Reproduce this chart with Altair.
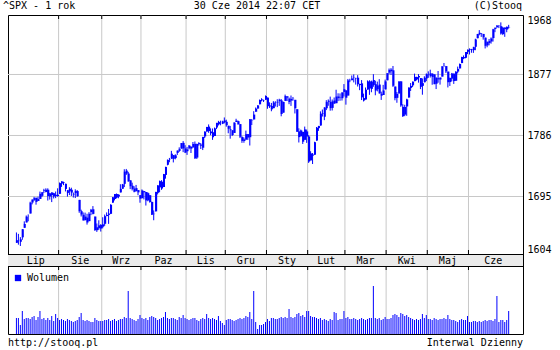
import altair as alt
import pandas as pd

title_left = "^SPX - 1 rok"
title_mid = "30 Cze 2014 22:07 CET"
title_right = "(C)Stooq"
footer_left = "http://stooq.pl"
footer_right = "Interwal Dzienny"
volume_label = "Wolumen"

months = ["Lip", "Sie", "Wrz", "Paz", "Lis", "Gru", "Sty", "Lut", "Mar", "Kwi", "Maj", "Cze"]
month_days = [22, 22, 20, 23, 20, 21, 21, 19, 21, 21, 21, 21]

opens = [
    1609.8,1614.3,1611.5,1618.7,1634.2,1642.9,1652.5,1657.4,1675.3,1679.6,1682.7,1677.9,1681.1,1686.2,1694.4,1696.1,1696.1,1685.2,1687.3,1690.3,1687.9,1687.8,
    1689.4,1706.1,1708.0,1705.8,1695.3,1693.4,1696.1,1688.4,1690.7,1693.9,1679.6,1661.2,1655.3,1646.8,1650.7,1645.0,1659.9,1664.3,1652.5,1630.3,1633.5,1638.9,
    1636.0,1640.7,1653.3,1657.4,1656.9,1675.1,1681.0,1689.2,1685.0,1691.7,1697.7,1705.7,1727.3,1722.4,1711.4,1702.6,1698.0,1694.0,1695.5,1687.3,
    1682.4,1691.9,1692.4,1678.8,1687.2,1676.2,1657.0,1660.9,1691.1,1699.9,1709.2,1700.5,1720.2,1736.7,1745.2,1746.5,1752.3,1747.5,1756.0,1759.4,1762.9,1772.3,1763.2,
    1758.7,1763.4,1765.7,1765.0,1770.7,1748.4,1770.0,1769.5,1764.4,1782.8,1790.7,1798.8,1790.8,1789.6,1783.5,1797.2,1806.3,1802.9,1803.5,1808.7,
    1806.6,1800.1,1794.2,1792.8,1788.4,1806.2,1807.6,1802.8,1781.7,1778.0,1777.5,1786.5,1781.5,1809.0,1810.4,1822.9,1828.0,1835.0,1843.0,1841.5,1842.6,
    1845.9,1833.2,1832.3,1828.7,1837.9,1839.0,1840.1,1841.3,1821.4,1840.5,1848.0,1844.2,1841.1,1844.7,1842.3,1827.0,1791.0,1783.0,1790.2,1777.2,1790.9,
    1782.7,1743.8,1753.4,1753.0,1776.0,1796.2,1800.5,1820.1,1814.8,1828.5,1839.0,1838.9,1829.2,1841.1,1836.8,1847.7,1845.8,1844.9,1855.1,
    1857.7,1849.2,1874.1,1874.2,1878.5,1877.9,1878.3,1866.2,1869.1,1845.1,1842.8,1858.9,1872.3,1860.1,1874.5,1867.7,1859.5,1867.1,1852.1,1850.1,1859.2,
    1874.0,1886.6,1891.4,1890.3,1863.9,1845.5,1852.6,1872.3,1830.7,1818.2,1831.5,1846.0,1861.7,1865.8,1872.6,1879.3,1881.0,1877.7,1865.0,1870.8,1877.1,
    1884.4,1885.3,1879.5,1883.7,1868.5,1877.4,1875.3,1880.0,1896.8,1897.1,1888.2,1871.2,1876.7,1884.9,1873.3,1888.2,1893.3,1902.0,1911.8,1910.6,1920.3,
    1923.9,1923.1,1923.1,1928.5,1942.4,1949.0,1950.3,1949.4,1943.4,1930.8,1934.8,1937.2,1942.7,1957.5,1960.5,1962.9,1962.0,1949.3,1959.9,1956.6,1960.8,
]
highs = [
    1626.6,1624.3,1619.0,1632.1,1644.7,1654.2,1656.0,1676.6,1680.2,1684.5,1683.7,1684.8,1693.1,1692.1,1697.6,1698.4,1698.4,1690.9,1691.9,1690.9,1693.2,1698.4,
    1707.9,1709.7,1709.2,1705.8,1695.3,1700.2,1699.4,1691.5,1696.8,1695.5,1679.6,1663.6,1659.2,1658.9,1657.0,1659.6,1664.9,1669.5,1652.5,1641.2,1646.4,1640.1,
    1651.4,1655.7,1659.2,1664.8,1672.4,1684.1,1689.1,1690.0,1688.7,1705.0,1705.5,1729.4,1729.9,1725.2,1711.4,1707.6,1701.7,1703.9,1695.5,1687.3,
    1696.6,1693.9,1692.4,1691.9,1687.2,1676.8,1662.5,1692.6,1703.4,1711.0,1711.6,1721.8,1733.4,1745.3,1747.8,1759.3,1752.3,1753.7,1759.8,1765.0,1772.1,1775.2,1768.5,
    1765.7,1768.8,1767.0,1773.7,1774.5,1770.8,1773.4,1771.8,1782.0,1791.0,1798.2,1802.3,1795.9,1795.7,1797.2,1804.8,1808.1,1808.4,1808.3,1813.6,
    1810.0,1800.1,1799.8,1792.8,1806.0,1811.5,1808.5,1803.0,1783.0,1780.9,1792.2,1786.8,1811.1,1810.9,1823.8,1829.8,1833.3,1842.8,1844.9,1842.5,1849.4,
    1845.9,1838.2,1837.2,1840.1,1840.0,1843.2,1844.0,1843.5,1839.3,1850.8,1848.0,1846.0,1849.3,1846.9,1842.3,1827.0,1796.0,1793.9,1790.2,1798.8,1793.9,
    1784.8,1758.7,1755.8,1774.1,1798.0,1799.9,1823.5,1826.5,1830.3,1841.7,1842.9,1847.5,1842.8,1846.1,1858.7,1852.9,1852.7,1854.5,1867.9,
    1857.7,1876.2,1876.5,1881.9,1883.6,1877.9,1882.4,1868.4,1874.4,1852.4,1862.3,1873.8,1874.1,1873.5,1884.0,1873.3,1871.9,1875.9,1855.6,1866.6,1875.2,
    1885.8,1893.2,1893.8,1897.3,1864.0,1855.0,1872.4,1872.5,1835.1,1834.2,1844.0,1862.3,1869.6,1871.9,1884.9,1879.8,1884.1,1877.7,1877.0,1880.6,1885.2,
    1888.6,1891.3,1885.5,1883.7,1878.8,1889.1,1878.6,1897.1,1902.2,1897.1,1888.2,1878.3,1886.0,1884.9,1888.8,1896.3,1901.3,1912.3,1914.5,1920.0,1924.0,
    1925.9,1925.1,1928.6,1941.7,1949.4,1955.6,1950.9,1949.4,1943.4,1937.3,1941.2,1943.7,1957.7,1959.9,1963.9,1963.7,1968.2,1960.8,1959.9,1961.5,1964.2,
]
lows = [
    1609.8,1606.8,1604.6,1614.7,1634.2,1642.9,1644.8,1657.4,1672.3,1677.9,1671.8,1677.9,1681.1,1684.1,1690.9,1691.8,1678.5,1680.1,1676.0,1681.9,1682.4,1684.9,
    1689.4,1700.7,1703.6,1693.3,1684.9,1687.4,1686.0,1683.4,1682.6,1684.8,1658.6,1652.6,1646.1,1646.1,1639.4,1645.0,1654.8,1656.0,1629.1,1627.5,1630.9,1628.1,
    1633.4,1637.4,1653.1,1640.6,1656.9,1675.1,1678.7,1682.0,1682.2,1691.7,1697.7,1700.4,1720.2,1708.9,1697.1,1694.9,1691.9,1693.1,1687.1,1675.0,
    1682.1,1680.3,1670.4,1677.3,1675.0,1655.0,1646.5,1660.9,1688.5,1692.1,1695.9,1700.5,1714.1,1735.7,1740.8,1746.5,1740.5,1745.5,1752.5,1757.7,1762.9,1757.2,1755.7,
    1752.7,1761.6,1755.8,1764.4,1746.2,1746.2,1767.8,1762.3,1760.6,1780.2,1790.7,1788.6,1784.7,1777.2,1783.5,1794.7,1800.6,1800.8,1802.8,1804.0,
    1798.6,1787.9,1779.1,1783.4,1788.4,1806.2,1801.8,1780.1,1772.3,1772.5,1777.5,1777.2,1768.0,1801.3,1810.3,1822.9,1828.0,1835.0,1839.8,1838.8,1842.4,
    1827.7,1829.1,1823.7,1828.7,1831.4,1830.4,1832.4,1815.5,1821.4,1840.5,1840.3,1835.2,1832.4,1840.9,1820.1,1790.3,1772.9,1783.0,1770.5,1777.2,1772.3,
    1739.7,1743.8,1737.9,1753.0,1776.0,1791.8,1800.4,1815.1,1809.2,1825.6,1832.6,1824.6,1824.9,1835.6,1836.8,1840.2,1840.7,1841.1,1847.7,
    1834.4,1849.2,1871.0,1874.2,1870.6,1867.0,1863.9,1858.0,1841.9,1839.6,1842.8,1858.9,1850.4,1854.6,1863.5,1849.7,1856.0,1852.6,1842.1,1850.1,1859.2,
    1874.0,1883.8,1882.7,1863.3,1841.5,1837.5,1852.4,1830.9,1814.4,1815.8,1816.3,1846.0,1856.7,1863.2,1872.6,1873.9,1870.2,1859.7,1850.6,1870.8,1872.7,
    1878.0,1878.5,1866.8,1867.7,1859.8,1870.1,1867.0,1880.0,1896.8,1885.8,1862.4,1864.8,1872.4,1868.1,1873.3,1885.4,1893.3,1902.0,1908.5,1909.8,1916.6,
    1916.0,1918.8,1918.6,1922.9,1942.4,1947.2,1944.6,1940.1,1925.8,1927.7,1930.9,1933.6,1937.0,1952.3,1959.2,1958.9,1948.3,1947.5,1944.7,1952.2,1958.2,
]
closes = [
    1614.1,1614.1,1615.4,1631.9,1640.5,1652.3,1652.6,1675.0,1680.2,1682.5,1676.3,1680.9,1689.4,1692.1,1695.5,1692.4,1685.9,1690.3,1691.7,1685.3,1686.0,1685.7,
    1706.9,1709.7,1707.1,1697.4,1690.9,1697.5,1691.4,1689.5,1694.2,1685.4,1661.3,1655.8,1646.1,1652.4,1642.8,1657.0,1663.5,1656.8,1630.5,1635.0,1638.2,1633.0,
    1639.8,1653.1,1655.1,1655.2,1671.7,1684.0,1689.1,1683.4,1688.0,1697.6,1704.8,1725.5,1722.3,1709.9,1701.8,1697.4,1692.8,1698.7,1691.8,1681.6,
    1695.0,1693.9,1678.7,1690.5,1676.1,1655.5,1656.4,1692.6,1703.2,1710.1,1698.1,1721.5,1733.2,1744.5,1744.7,1754.7,1746.4,1752.1,1759.8,1762.1,1772.0,1763.3,1756.5,
    1761.6,1767.9,1763.0,1770.5,1747.2,1770.6,1771.9,1767.7,1782.0,1790.6,1798.2,1791.5,1787.9,1781.4,1795.9,1804.8,1802.5,1802.8,1807.2,1805.8,
    1800.9,1795.2,1792.8,1785.0,1805.1,1808.4,1802.6,1782.2,1775.5,1775.3,1786.5,1781.0,1810.7,1809.6,1818.3,1828.0,1833.3,1842.0,1841.4,1841.1,1848.4,
    1832.0,1831.4,1826.8,1837.9,1837.5,1838.1,1842.4,1819.2,1838.9,1848.4,1845.9,1838.7,1843.8,1844.9,1828.5,1790.3,1781.6,1792.5,1774.2,1794.2,1782.6,
    1741.9,1755.2,1751.6,1773.4,1797.0,1799.8,1819.8,1819.3,1829.8,1838.6,1840.8,1828.8,1839.8,1836.3,1847.6,1845.1,1845.2,1854.3,1859.5,
    1845.7,1873.9,1873.8,1877.0,1878.1,1877.2,1867.6,1868.2,1846.3,1841.1,1858.8,1872.3,1860.8,1872.0,1866.5,1857.4,1865.6,1852.6,1849.0,1857.6,1872.3,
    1885.5,1890.9,1888.8,1865.1,1845.0,1852.0,1872.2,1833.1,1815.7,1830.6,1843.0,1862.3,1864.9,1871.9,1879.6,1875.4,1878.6,1863.4,1869.4,1878.3,1884.0,
    1883.7,1881.1,1884.7,1867.7,1878.2,1875.6,1878.5,1896.7,1897.5,1888.5,1870.9,1877.9,1885.1,1872.8,1888.0,1892.5,1900.5,1911.9,1909.8,1920.0,1923.6,
    1925.0,1924.2,1927.9,1940.5,1949.4,1951.3,1950.8,1943.9,1930.1,1936.2,1937.8,1942.0,1957.0,1959.5,1962.9,1962.6,1950.0,1959.5,1957.2,1961.0,1960.2,
]
volumes = [
    3200,3200,1800,4600,3000,3200,3200,3000,3400,3600,2800,3400,4600,3000,3200,2800,3200,2800,3600,2600,4000,3200,
    2800,3000,2800,2600,3000,2800,2600,2400,2600,2800,3400,4200,2800,2600,2800,2600,2400,2400,3200,2800,2600,2600,
    2600,2800,2800,3000,2600,2800,3000,2600,2800,3000,3000,3400,3200,8600,3200,3000,2800,2600,3000,3800,
    3200,3000,3200,2800,3400,3600,3400,3200,2800,3000,3200,3400,4400,3200,3000,3200,3200,3000,2800,3400,3200,3800,3200,
    3000,2800,3000,3200,3200,2800,2600,3000,3200,3000,4000,3200,3000,3200,3000,2800,3600,2600,2200,1800,
    2800,3000,3000,2800,2600,2800,3000,3200,3000,3200,3600,3400,4400,3000,8600,2400,1000,1800,1800,2000,2400,
    3000,2600,3200,3200,3000,3000,3200,3400,3200,3400,3200,5000,3400,3200,3400,4000,4200,3600,3800,3400,4600,
    4600,3600,3400,3400,3200,3000,3200,2800,3000,2800,2600,3000,2800,4400,4200,2800,3000,3000,4600,
    3200,3400,3000,3000,3200,3000,2800,3000,3200,3000,2800,3000,3200,3200,9600,3200,3000,3200,2800,3000,3400,
    3000,3000,3200,3800,4000,3800,3400,4200,4000,3600,3800,3400,3200,3000,2800,3000,2800,3000,4000,3200,3800,
    3000,3000,2800,3200,3000,2800,3000,3000,3200,3000,3800,3000,2800,2800,2600,2400,2800,3000,2800,2800,3600,
    2400,2400,2600,2600,2400,2600,2400,2600,2800,2600,2800,2800,2600,3000,7600,2400,2800,2800,2400,2800,4600,
]

price_tick_values = [1591.6, 1685.1, 1784.3, 1883.5, 1980.2]
price_tick_labels = ["1604", "1695", "1786", "1877", "1968"]
price_grid = price_tick_values[1:-1]

BLUE = "#0000ff"
GRID = "#c8c8c8"
BAND = "#ebebeb"
FONT = "DejaVu Sans Mono"
FS = 10

W = 515
PH = 239
BH = 12
VH = 68
H = PH + BH + VH

n = min(len(opens), len(highs), len(lows), len(closes), len(volumes))
df = pd.DataFrame({
    "i": list(range(n)),
    "open": opens[:n], "high": highs[:n], "low": lows[:n], "close": closes[:n],
    "volume": volumes[:n],
    "series": [volume_label] * n,
})

X_DOMAIN = [-1.75, 255.75]
starts = [0]
for d in month_days[:-1]:
    starts.append(starts[-1] + d)
bounds = [s - 0.5 for s in starts[1:]]
edges = [X_DOMAIN[0]] + bounds + [X_DOMAIN[1]]
centers = [(edges[k] + edges[k + 1]) / 2 for k in range(len(months))]

bounds_df = pd.DataFrame({"b": bounds})
months_df = pd.DataFrame({"m": months, "c": centers})
grid_df = pd.DataFrame({"g": price_grid})
one = pd.DataFrame({"k": [0]})

xs = alt.Scale(domain=X_DOMAIN, nice=False, zero=False)
ys = alt.Scale(domain=[price_tick_values[0], price_tick_values[-1]], range=[PH, 0], nice=False, zero=False)
vs = alt.Scale(domain=[0, 13600], range=[H, PH + BH], nice=False)

label_expr = "".join(
    f"abs(datum.value - {v}) < 0.5 ? '{l}' : " for v, l in zip(price_tick_values, price_tick_labels)
) + "''"

price_axis = alt.Axis(
    orient="right", values=price_tick_values, labelExpr=label_expr, labelFlush=True,
    domain=False, ticks=False, grid=False, labelPadding=4, labelFont=FONT,
    labelFontSize=FS, labelColor="black", title=None,
)

X = alt.X("i:Q", scale=xs, axis=None)

band = alt.Chart(one).mark_rect(color=BAND).encode(
    x=alt.value(0), x2=alt.value(W), y=alt.value(PH), y2=alt.value(PH + BH))

vgrid_p = alt.Chart(bounds_df).mark_rule(color=GRID).encode(
    x=alt.X("b:Q", scale=xs, axis=None), y=alt.value(0), y2=alt.value(PH))
vgrid_v = alt.Chart(bounds_df).mark_rule(color=GRID).encode(
    x=alt.X("b:Q", scale=xs, axis=None), y=alt.value(PH + BH), y2=alt.value(H))
hgrid = alt.Chart(grid_df).mark_rule(color=GRID).encode(
    y=alt.Y("g:Q", scale=ys, axis=None), x=alt.value(0), x2=alt.value(W))

wicks = alt.Chart(df).mark_rule(color=BLUE, strokeWidth=1).encode(
    x=X, y=alt.Y("low:Q", scale=ys, axis=price_axis), y2="high:Q")
bodies = alt.Chart(df).mark_bar(color=BLUE, size=2, xOffset=0.5).encode(
    x=X, y=alt.Y("open:Q", scale=ys, axis=None), y2="close:Q")

vol = alt.Chart(df).mark_rule(strokeWidth=1).encode(
    x=X,
    y=alt.Y("volume:Q", scale=vs, axis=None),
    y2=alt.datum(0),
    color=alt.Color("series:N", scale=alt.Scale(range=[BLUE]), legend=alt.Legend(
        title=None, orient="none", legendX=5, legendY=258, symbolType="square",
        symbolSize=40, symbolStrokeWidth=0, symbolFillColor=BLUE, symbolOpacity=1,
        labelFont=FONT, labelFontSize=FS,
        labelColor="black", labelOffset=4, padding=0)),
    opacity=alt.value(1),
)

ticks_top = alt.Chart(bounds_df).mark_rule(color="black").encode(
    x=alt.X("b:Q", scale=xs, axis=None), y=alt.value(0), y2=alt.value(4))
ticks_pb = alt.Chart(bounds_df).mark_rule(color="black").encode(
    x=alt.X("b:Q", scale=xs, axis=None), y=alt.value(PH - 4), y2=alt.value(PH))
ticks_vt = alt.Chart(bounds_df).mark_rule(color="black").encode(
    x=alt.X("b:Q", scale=xs, axis=None), y=alt.value(PH + BH), y2=alt.value(PH + BH + 4))

line1 = alt.Chart(one).mark_rule(color="black").encode(
    x=alt.value(0), x2=alt.value(W), y=alt.value(PH + 0.5))
line2 = alt.Chart(one).mark_rule(color="black").encode(
    x=alt.value(0), x2=alt.value(W), y=alt.value(PH + BH + 0.5))

month_text = alt.Chart(months_df).mark_text(font=FONT, fontSize=FS, baseline="middle", color="black").encode(
    x=alt.X("c:Q", scale=xs, axis=None), y=alt.value(PH + BH / 2 + 0.5), text="m:N")


def label(txt, x, y, align):
    return alt.Chart(pd.DataFrame({"t": [txt]})).mark_text(
        font=FONT, fontSize=FS, align=align, baseline="middle", color="black"
    ).encode(text="t:N", x=alt.value(x), y=alt.value(y))


texts = [
    label(title_left, -5, -9, "left"),
    label(title_mid, 249, -9, "center"),
    label(title_right, 514, -9, "right"),
    label(footer_left, 0, H + 9, "left"),
    label(footer_right, W, H + 9, "right"),
]

chart = alt.layer(
    band, vgrid_p, vgrid_v, hgrid, vol, wicks, bodies,
    ticks_top, ticks_pb, ticks_vt, line1, line2, month_text, *texts
).resolve_scale(y="independent").properties(
    width=W, height=H,
    autosize=alt.AutoSizeParams(type="none"),
    padding={"left": 8, "top": 15, "right": 37, "bottom": 16},
    background="white",
).configure_view(stroke="black", strokeWidth=1)

chart.save("out.html", embed_options={"renderer": "svg", "actions": False})
